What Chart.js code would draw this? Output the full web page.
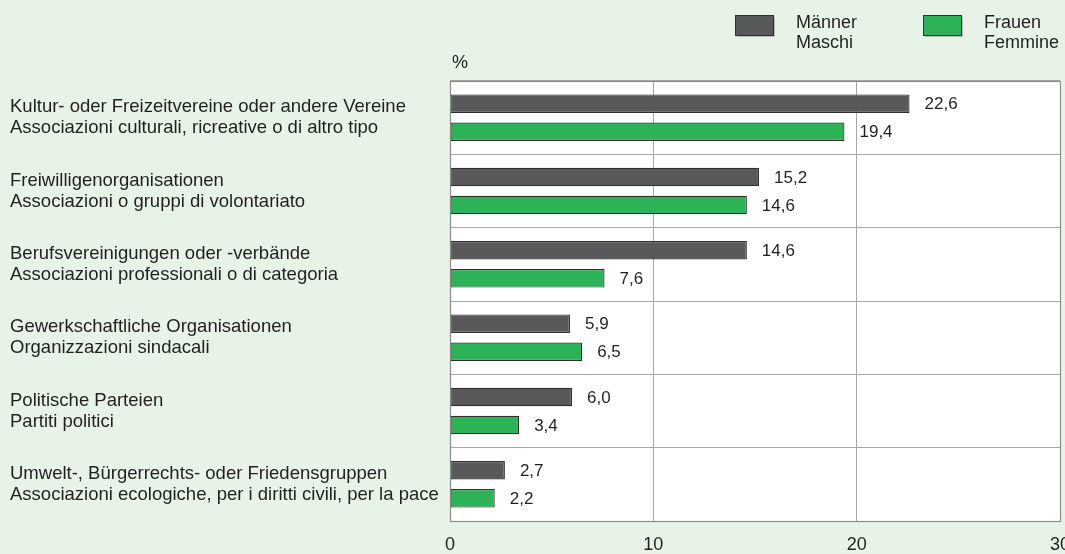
<!DOCTYPE html>
<html><head><meta charset="utf-8">
<script src="https://cdn.jsdelivr.net/npm/chart.js@4"></script>
<style>
html,body{margin:0;padding:0;background:#e7f3e7;overflow:hidden;width:1065px;height:554px;}
#wrap{position:absolute;left:0;top:0;width:1073px;height:554px;}
</style></head><body>
<div id="wrap"><canvas id="c"></canvas></div>
<script>
const categories = [
  ["Kultur- oder Freizeitvereine oder andere Vereine","Associazioni culturali, ricreative o di altro tipo"],
  ["Freiwilligenorganisationen","Associazioni o gruppi di volontariato"],
  ["Berufsvereinigungen oder -verbände","Associazioni professionali o di categoria"],
  ["Gewerkschaftliche Organisationen","Organizzazioni sindacali"],
  ["Politische Parteien","Partiti politici"],
  ["Umwelt-, Bürgerrechts- oder Friedensgruppen","Associazioni ecologiche, per i diritti civili, per la pace"]
];
const maenner = [22.6, 15.2, 14.6, 5.9, 6.0, 2.7];
const frauen = [19.4, 14.6, 7.6, 6.5, 3.4, 2.2];
const seriesLabels = [["Männer","Maschi"],["Frauen","Femmine"]];
const xTicks = [0, 10, 20, 30];
const unitLabel = "%";

const FONT = "'Liberation Sans', Arial, sans-serif";
const TXT = "#231f20";

const valueLabels = {
  id: 'valueLabels',
  afterDatasetsDraw(chart) {
    const ctx = chart.ctx;
    ctx.save();
    ctx.font = "17px " + FONT;
    ctx.fillStyle = TXT;
    ctx.textAlign = 'left';
    ctx.textBaseline = 'middle';
    chart.data.datasets.forEach((ds, di) => {
      chart.getDatasetMeta(di).data.forEach((bar, i) => {
        ctx.fillText(ds.data[i].toFixed(1).replace('.', ','), bar.x + 15, bar.y + 1);
      });
    });
    ctx.restore();
  }
};

const frame = {
  id: 'frame',
  beforeDraw(chart) {
    const a = chart.chartArea, ctx = chart.ctx;
    ctx.save();
    ctx.fillStyle = '#ffffff';
    ctx.fillRect(a.left, a.top, a.right - a.left, a.bottom - a.top);
    ctx.restore();
  },
  afterDraw(chart) {
    const a = chart.chartArea, ctx = chart.ctx;
    ctx.save();
    ctx.strokeStyle = '#8c8c8c';
    ctx.lineWidth = 1.2;
    ctx.strokeRect(a.left + 0.5, a.top + 0.5, a.right - a.left, a.bottom - a.top);
    ctx.font = "18px " + FONT;
    ctx.fillStyle = TXT;
    ctx.textAlign = 'left';
    ctx.textBaseline = 'middle';
    ctx.fillText(unitLabel, a.left + 2, 63);
    const pos = [[735, 796], [923, 984]];
    chart.data.datasets.forEach((ds, i) => {
      const [bx, tx] = pos[i];
      ctx.fillStyle = 'rgba(0,0,0,0.22)';
      ctx.fillRect(bx + 2, 17, 38, 20);
      ctx.fillStyle = ds.backgroundColor;
      ctx.fillRect(bx, 15, 38, 20);
      ctx.strokeStyle = '#333333';
      ctx.lineWidth = 1;
      ctx.strokeRect(bx + 0.5, 15.5, 38, 20);
      ctx.fillStyle = TXT;
      ctx.font = "18px " + FONT;
      seriesLabels[i].forEach((t, k) => ctx.fillText(t, tx, 23 + k * 20));
    });
    ctx.restore();
  }
};

new Chart(document.getElementById('c'), {
  type: 'bar',
  data: {
    labels: categories,
    datasets: [
      { label: seriesLabels[0].join(' / '), data: maenner, backgroundColor: '#58595b', borderColor: '#2e2e2e', borderWidth: 1.2, borderSkipped: false, categoryPercentage: 0.764, barPercentage: 0.66 },
      { label: seriesLabels[1].join(' / '), data: frauen, backgroundColor: '#2db357', borderColor: '#2e2e2e', borderWidth: 1.2, borderSkipped: false, categoryPercentage: 0.764, barPercentage: 0.66 }
    ]
  },
  options: {
    indexAxis: 'y',
    responsive: true,
    maintainAspectRatio: false,
    animation: false,
    layout: { padding: { left: 10, right: 13, top: 81, bottom: 0 } },
    plugins: { legend: { display: false }, tooltip: { enabled: false } },
    scales: {
      x: {
        min: 0, max: 30,
        afterBuildTicks(scale) { scale.ticks = xTicks.map(v => ({ value: v })); },
        afterFit(scale) { scale.height = 33; scale.paddingRight = 0; scale.paddingLeft = 0; },
        grid: { color: '#a6a6a6', drawTicks: false, lineWidth: 1 },
        border: { display: false },
        ticks: { padding: 13, color: TXT, font: { family: FONT, size: 18 } }
      },
      y: {
        afterFit(scale) { scale.width = 440; scale.paddingTop = 0; scale.paddingBottom = 0; },
        grid: { color: '#a6a6a6', drawTicks: false, offset: true },
        border: { display: false },
        ticks: { crossAlign: 'far', color: TXT, font: { family: FONT, size: 18.5, lineHeight: 1.14 } }
      }
    }
  },
  plugins: [frame, valueLabels]
});
</script></body></html>
